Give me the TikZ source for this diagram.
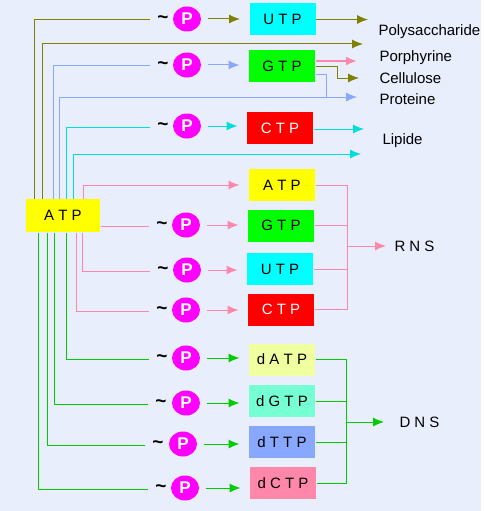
\documentclass[tikz,border=0pt]{standalone}
\usepackage{fontspec}
\setmainfont{Liberation Sans}
\usepackage{tikz}
\usetikzlibrary{calc,arrows.meta,shapes.geometric}

\definecolor{bgblue}{HTML}{E8EEFC}
\definecolor{olivel}{HTML}{808000}
\definecolor{bluel}{HTML}{88A8FF}
\definecolor{cyanl}{HTML}{00DDDD}
\definecolor{pinkl}{HTML}{FF88AA}
\definecolor{greenl}{HTML}{00CC00}
\definecolor{phosmag}{HTML}{FF00FF}
\definecolor{boxcyan}{HTML}{00FFFF}
\definecolor{boxgreen}{HTML}{00FF00}
\definecolor{boxred}{HTML}{FF0000}
\definecolor{boxyellow}{HTML}{FFFF00}
\definecolor{boxdA}{HTML}{F0FFA0}
\definecolor{boxdG}{HTML}{77FFD4}
\definecolor{boxdT}{HTML}{88A8FF}
\definecolor{boxdC}{HTML}{FF88AA}

\begin{document}
\begin{tikzpicture}[x=1pt,y=-1pt,font=\fontsize{15}{18}\selectfont,line width=1pt,
    >={Latex[length=11pt,width=9pt]}]
    \fill[bgblue] (0,0) rectangle (481,511);
    \useasboundingbox (0,0) rectangle (483,511);

    \tikzset{nucbox/.style={minimum width=66pt,minimum height=32pt,inner sep=0pt}}
    \tikzset{phos/.style={ellipse,fill=phosmag,text=white,minimum width=28pt,minimum height=25pt,
        inner sep=0pt,font=\fontsize{17}{18}\selectfont\bfseries}}
    \tikzset{tld/.style={inner xsep=7pt,inner ysep=0pt,font=\fontsize{19}{20}\selectfont\bfseries}}
    \tikzset{lbl/.style={anchor=west,inner sep=0pt}}
    \tikzset{toP/.style={->,shorten <=6pt,shorten >=9pt}}

    % source
    \node[nucbox,fill=boxyellow,minimum width=74pt,minimum height=33pt] (atp) at (63,215.5) {A T P};

    % upper block
    \node[nucbox,fill=boxcyan] (utpA) at (282.5,19.5) {U T P};
    \node[nucbox,fill=boxgreen] (gtpA) at (282,66) {G T P};
    \node[nucbox,fill=boxred,text=white] (ctpA) at (280,128) {C T P};

    \node[tld] (tU) at (163,20) {\textasciitilde};
    \node[tld] (tG) at (163,66) {\textasciitilde};
    \node[tld] (tC) at (163,127) {\textasciitilde};
    \node[phos] (pU) at (187,19) {P};
    \node[phos] (pG) at (187,65) {P};
    \node[phos] (pC) at (187,126) {P};

    \node[lbl] (poly) at (378,32) {Polysaccharide};
    \node[lbl] (porph) at (379,58) {Porphyrine};
    \node[lbl] (cell) at (379,78) {Cellulose};
    \node[lbl] (prot) at (379,99) {Proteine};
    \node[lbl] (lip) at (382,141) {Lipide};

    % RNS block
    \node[nucbox,fill=boxyellow] (atpR) at (282,185) {A T P};
    \node[nucbox,fill=boxgreen] (gtpR) at (281,225.5) {G T P};
    \node[nucbox,fill=boxcyan] (utpR) at (280,269) {U T P};
    \node[nucbox,fill=boxred,text=white] (ctpR) at (281,309.5) {C T P};

    \node[tld] (tG2) at (162,226) {\textasciitilde};
    \node[tld] (tU2) at (163,271) {\textasciitilde};
    \node[tld] (tC2) at (162,311) {\textasciitilde};
    \node[phos] (pG2) at (186,225) {P};
    \node[phos] (pU2) at (187,270) {P};
    \node[phos] (pC2) at (186,310) {P};

    \node[lbl] (rns) at (394,246) {R N S};

    % DNS block
    \node[nucbox,fill=boxdA] (datp) at (282,359.5) {d A T P};
    \node[nucbox,fill=boxdG] (dgtp) at (282,401) {d G T P};
    \node[nucbox,fill=boxdT] (dttp) at (282,442) {d T T P};
    \node[nucbox,fill=boxdC] (dctp) at (283,483) {d C T P};

    \node[tld] (tdA) at (162,359) {\textasciitilde};
    \node[tld] (tdG) at (161,404) {\textasciitilde};
    \node[tld] (tdT) at (158,445) {\textasciitilde};
    \node[tld] (tdC) at (161,489) {\textasciitilde};
    \node[phos] (pdA) at (186,358) {P};
    \node[phos] (pdG) at (186,403) {P};
    \node[phos] (pdT) at (183,444) {P};
    \node[phos] (pdC) at (185,488) {P};

    \node[lbl] (dns) at (399,422) {D N S};

    % free ends
    \coordinate (ePoly) at (368,19.5);
    \coordinate (eMid) at (363,44);
    \coordinate (ePorph) at (357,61);
    \coordinate (eCell) at (359,78);
    \coordinate (eProt) at (357,97);
    \coordinate (eLip) at (364,129);
    \coordinate (eLip2) at (361,154);

    % upper lines
    \draw[olivel] (atp.north -| 34,0) |- (tU.west);
    \draw[olivel,->] (atp.north -| 42,0) |- (eMid);
    \draw[bluel] (atp.north -| 53,0) |- (tG.west);
    \draw[bluel,->] (atp.north -| 59,0) |- (eProt);
    \draw[cyanl] (atp.north -| 66,0) |- (tC.west);
    \draw[cyanl,->] (atp.north -| 73,0) |- (eLip2);

    \draw[olivel,toP] (pU.east) -- (pU.east -| utpA.west);
    \draw[bluel,toP] (pG.east) -- (pG.east -| gtpA.west);
    \draw[cyanl,toP] (pC.east) -- (pC.east -| ctpA.west);

    \draw[olivel,->] (utpA.east) -- (ePoly);
    \draw[pinkl,line width=2pt,->] (gtpA.east |- ePorph) -- (ePorph);
    \draw[olivel,->] (gtpA.east |- 0,67) -| (337,78) -- (eCell);
    \draw[bluel] (gtpA.east |- 0,74) -| (326,97);
    \draw[cyanl,->] (ctpA.east |- eLip) -- (eLip);

    % RNS lines
    \draw[pinkl,->,shorten >=9pt] (atp.north -| 83,0) |- (atpR.west);
    \draw[pinkl] (atp.east |- tG2.west) -- (tG2.west);
    \draw[pinkl] (atp.south -| 82,0) |- (tU2.west);
    \draw[pinkl] (atp.south -| 76,0) |- (tC2.west);

    \draw[pinkl,toP] (pG2.east) -- (pG2.east -| gtpR.west);
    \draw[pinkl,toP] (pU2.east) -- (pU2.east -| utpR.west);
    \draw[pinkl,toP] (pC2.east) -- (pC2.east -| ctpR.west);

    \draw[pinkl] (atpR.east) -- (atpR.east -| 347,0) -- (ctpR.east -| 347,0) -- (ctpR.east);
    \draw[pinkl] (gtpR.east) -- (gtpR.east -| 347,0);
    \draw[pinkl] (utpR.east) -- (utpR.east -| 347,0);
    \draw[pinkl,->,shorten >=8pt] (rns.west -| 347,0) -- (rns.west);

    % DNS lines
    \draw[greenl] (atp.south -| 66,0) |- (tdA.west);
    \draw[greenl] (atp.south -| 54,0) |- (tdG.west);
    \draw[greenl] (atp.south -| 47,0) |- (tdT.west);
    \draw[greenl] (atp.south -| 38,0) |- (tdC.west);

    \draw[greenl,toP] (pdA.east) -- (pdA.east -| datp.west);
    \draw[greenl,toP] (pdG.east) -- (pdG.east -| dgtp.west);
    \draw[greenl,toP] (pdT.east) -- (pdT.east -| dttp.west);
    \draw[greenl,toP] (pdC.east) -- (pdC.east -| dctp.west);

    \draw[greenl] (datp.east) -- (datp.east -| 346,0) -- (dctp.east -| 346,0) -- (dctp.east);
    \draw[greenl] (dgtp.east) -- (dgtp.east -| 346,0);
    \draw[greenl] (dttp.east) -- (dttp.east -| 346,0);
    \draw[greenl,->,shorten >=15pt] (dns.west -| 346,0) -- (dns.west);
\end{tikzpicture}
\end{document}
